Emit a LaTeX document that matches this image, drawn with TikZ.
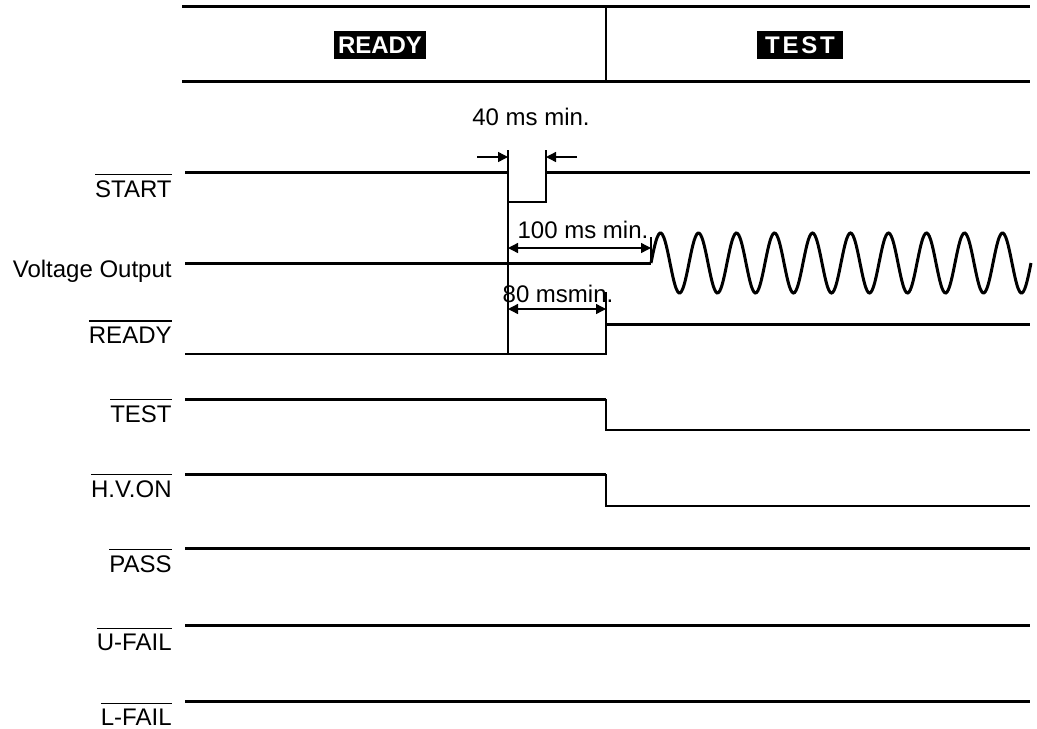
\documentclass[tikz,border=0pt]{standalone}
\usepackage{fontspec}
\setmainfont{Liberation Sans}
\usetikzlibrary{arrows.meta}
\newcommand{\ovl}[1]{\vbox{\hrule height 0.6pt \kern 2.4pt \hbox{#1}}}
\begin{document}
\begin{tikzpicture}[x=0.5pt, y=-0.5pt,
    sighi/.style={line width=1.5pt},
    siglo/.style={line width=0.9pt},
    dimline/.style={line width=0.7pt},
    dimarrow/.style={dimline, {Triangle[length=5pt,width=5pt]}-{Triangle[length=5pt,width=5pt]}},
    sigtext/.style={anchor=base east, inner sep=0pt, font=\fontsize{12}{14}\selectfont},
    phasebox/.style={fill=black, text=white, inner xsep=1.8pt, inner ysep=0pt,
        minimum height=14pt, font=\fontsize{12}{14}\selectfont\bfseries}]
    \useasboundingbox (0,0) rectangle (1037,728);
    % ---------- header ----------
    \draw[sighi] (182,6) -- (1030,6);
    \draw[sighi] (182,81) -- (1030,81);
    \draw[line width=1pt] (606,6) -- (606,81);
    \node[phasebox] (phReady) at (380,45) {READY};
    \node[phasebox, inner xsep=4pt] (phTest) at (800,45) {T\kern1.4pt E\kern1.4pt S\kern1.4pt T};
    % ---------- START ----------
    \draw[sighi] (185,172) -- (508,172);
    \draw[siglo] (508,172) -- (508,202) -- (546,202) -- (546,172);
    \draw[sighi] (546,172) -- (1030,172);
    \node[sigtext] (lblStart) at (172,197) {\ovl{START}};
    % ---------- 40 ms ----------
    \draw[dimline] (508,150) -- (508,172);
    \draw[dimline] (508,202) -- (508,354);
    \draw[dimline] (546,150) -- (546,172);
    \draw[dimline, -{Triangle[length=5pt,width=5pt]}] (477,157) -- (508,157);
    \draw[dimline, -{Triangle[length=5pt,width=5pt]}] (577,157) -- (546,157);
    \node[font=\fontsize{12}{14}\selectfont] (lbl40) at (531,117) {40 ms min.};
    % ---------- Voltage Output ----------
    \draw[sighi] (185,263) -- (651,263);
    \draw[sighi] plot[domain=0:380, samples=300, smooth]
        ({651+\x}, {263 - 30*sin(9.4737*\x)});
    \node[sigtext] (lblVolt) at (172,277) {Voltage Output};
    % ---------- 100 ms ----------
    \draw[dimline] (651,237) -- (651,263);
    \draw[dimarrow] (508,248) -- (651,248);
    \node[font=\fontsize{12}{14}\selectfont] (lbl100) at (583,230) {100 ms min.};
    % ---------- READY ----------
    \draw[siglo] (185,354) -- (606,354) -- (606,324);
    \draw[dimline] (606,292) -- (606,324);
    \draw[sighi] (606,324) -- (1030,324);
    \node[sigtext] (lblReady) at (172,343) {\ovl{READY}};
    % ---------- 80 ms ----------
    \draw[dimarrow] (508,309) -- (606,309);
    \node[font=\fontsize{12}{14}\selectfont] (lbl80) at (558,294) {80 msmin.};
    % ---------- TEST ----------
    \draw[sighi] (185,399) -- (606,399);
    \draw[siglo] (606,399) -- (606,430) -- (1030,430);
    \node[sigtext] (lblTest) at (172,422) {\ovl{TEST}};
    % ---------- H.V.ON ----------
    \draw[sighi] (185,474) -- (606,474);
    \draw[siglo] (606,474) -- (606,506) -- (1030,506);
    \node[sigtext] (lblHv) at (172,497) {\ovl{H.V.ON}};
    % ---------- PASS, U-FAIL, L-FAIL ----------
    \draw[sighi] (185,548) -- (1030,548);
    \node[sigtext] (lblPass) at (172,572) {\ovl{PASS}};
    \draw[sighi] (185,625) -- (1030,625);
    \node[sigtext] (lblUfail) at (172,650) {\ovl{U-FAIL}};
    \draw[sighi] (185,701) -- (1030,701);
    \node[sigtext] (lblLfail) at (172,725) {\ovl{L-FAIL}};
\end{tikzpicture}
\end{document}
